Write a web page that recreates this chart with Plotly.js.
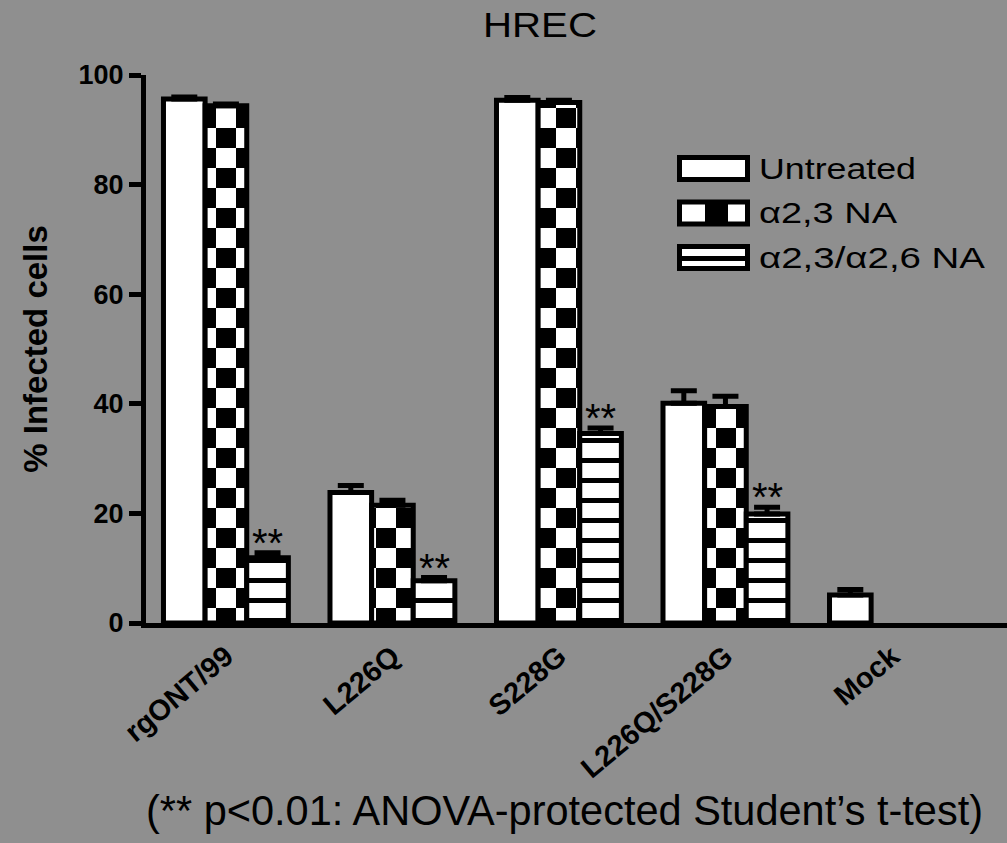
<!DOCTYPE html>
<html>
<head>
<meta charset="utf-8">
<script src="https://cdn.plot.ly/plotly-3.0.1.min.js"></script>
<style>
  html, body { margin: 0; padding: 0; background: #8f8f8f; }
  #chart { width: 1007px; height: 843px; }
</style>
</head>
<body>
<div id="chart"></div>
<script>
// ---- data -------------------------------------------------------------
var categories = ['rgONT/99', 'L226Q', 'S228G', 'L226Q/S228G', 'Mock'];
var seriesNames = ['Untreated', 'α2,3 NA', 'α2,3/α2,6 NA'];

var untreated    = [95.6, 23.8, 95.4, 40.1, 5.1];
var untreatedErr = [0.4, 1.3, 0.5, 2.3, 1.0];

var na23    = [94.4, 21.5, 95.0, 39.5, null];
var na23Err = [0.3, 0.9, 0.4, 1.9, null];

var na2326    = [11.9, 7.7, 34.6, 19.9, null];
var na2326Err = [0.9, 0.6, 1.0, 1.2, null];

// significance marks drawn above the α2,3/α2,6 NA bars
var significance = ['**', '**', '**', '**', ''];

var yTicks = [0, 20, 40, 60, 80, 100];

var titleText = 'HREC';
var yTitleText = '% Infected cells';
var footnoteText = '(** p<0.01: ANOVA-protected Student’s t-test)';

// ---- page geometry ----------------------------------------------------
var W = 1007, H = 843;
var M = { l: 146, r: 0, t: 75, b: 220 };
var BG = '#8f8f8f';
var FONT = 'Arial, "Liberation Sans", Helvetica, sans-serif';
var BARGAP = 0.25;
var OUTLINE = 5;

// pixel -> paper coordinates for overlay items
function px(x) { return (x - M.l) / (W - M.l - M.r); }
function py(y) { return (H - M.b - y) / (H - M.t - M.b); }

function zeros(arr) { return arr.map(function () { return 0; }); }

function barTrace(name, y, err, pattern) {
  var t = {
    type: 'bar',
    name: name,
    x: categories,
    y: y,
    marker: { color: '#ffffff', line: { color: '#000000', width: OUTLINE } },
    error_y: {
      type: 'data', symmetric: false, visible: true,
      array: err, arrayminus: zeros(err),
      color: '#000000', thickness: 5, width: 13
    },
    showlegend: false,
    hoverinfo: 'skip'
  };
  if (pattern) t.marker.pattern = pattern;
  return t;
}

var data = [
  barTrace(seriesNames[0], untreated, untreatedErr, null),
  barTrace(seriesNames[1], na23, na23Err,
    { shape: '+', size: 40, solidity: 0.5, fgcolor: '#000000', bgcolor: '#ffffff' }),
  barTrace(seriesNames[2], na2326, na2326Err,
    { shape: '-', size: 20, solidity: 0.25, fgcolor: '#000000', bgcolor: '#ffffff' })
];

// ---- annotations -------------------------------------------------------
var annotations = [];
var thirdOffset = (1 - BARGAP) / 3;
significance.forEach(function (s, i) {
  if (!s) return;
  annotations.push({
    x: i + thirdOffset, y: na2326[i] + na2326Err[i],
    xref: 'x', yref: 'y', text: s, showarrow: false,
    xanchor: 'center', yanchor: 'bottom', yshift: -14,
    font: { family: FONT, size: 40, color: '#000000' }
  });
});

// legend built from shapes + labels
var shapes = [];
var legendRows = [168.5, 213, 257.5];
var legendWidths = [157, 138, 226];
var swL = 679.5, swR = 747.5, swH = 22;
var labelLeft = 757;
legendRows.forEach(function (cy, k) {
  shapes.push({
    type: 'rect', xref: 'paper', yref: 'paper',
    x0: px(swL), x1: px(swR), y0: py(cy + swH / 2), y1: py(cy - swH / 2),
    fillcolor: '#ffffff', line: { color: '#000000', width: OUTLINE }, layer: 'above'
  });
  if (k === 1) {
    shapes.push({
      type: 'rect', xref: 'paper', yref: 'paper',
      x0: px(705), x1: px(728), y0: py(cy + swH / 2), y1: py(cy - swH / 2),
      fillcolor: '#000000', line: { width: 0 }, layer: 'above'
    });
  }
  if (k === 2) {
    shapes.push({
      type: 'line', xref: 'paper', yref: 'paper',
      x0: px(swL), x1: px(swR), y0: py(cy + 1), y1: py(cy + 1),
      line: { color: '#000000', width: 5 }, layer: 'above'
    });
  }
  annotations.push({
    x: px(labelLeft), y: py(cy), xref: 'paper', yref: 'paper',
    text: seriesNames[k], showarrow: false,
    xanchor: 'left', yanchor: 'middle',
    font: { family: FONT, size: 29, color: '#000000' }
  });
});

annotations.push({
  x: px(564.5), y: py(810), xref: 'paper', yref: 'paper',
  text: footnoteText, showarrow: false,
  xanchor: 'center', yanchor: 'middle',
  font: { family: FONT, size: 42, color: '#000000' }
});

// ---- layout ------------------------------------------------------------
var layout = {
  width: W, height: H,
  margin: M,
  paper_bgcolor: BG, plot_bgcolor: BG,
  barmode: 'group', bargap: BARGAP, bargroupgap: 0,
  showlegend: false,
  font: { family: FONT, color: '#000000' },
  title: {
    text: titleText,
    font: { family: FONT, size: 35, color: '#000000' },
    xref: 'container', yref: 'container',
    x: 540 / W, xanchor: 'center',
    y: 1 - 25 / H, yanchor: 'middle'
  },
  xaxis: {
    type: 'category',
    range: [-0.48, 4.691],
    showline: true, linecolor: '#000000', linewidth: OUTLINE,
    ticks: '', showgrid: false, zeroline: false,
    tickangle: -40,
    tickfont: { family: FONT, size: 29, weight: 'bold', color: '#000000' },
    fixedrange: true
  },
  yaxis: {
    range: [0, 100],
    tickvals: yTicks, ticktext: yTicks.map(String),
    showline: true, linecolor: '#000000', linewidth: OUTLINE,
    ticks: 'outside', ticklen: 12, tickwidth: 5, tickcolor: '#000000',
    showgrid: false, zeroline: false,
    tickfont: { family: FONT, size: 27, weight: 'bold', color: '#000000' },
    title: {
      text: yTitleText,
      font: { family: FONT, size: 33, weight: 'bold', color: '#000000' },
      standoff: 22
    },
    fixedrange: true
  },
  shapes: shapes,
  annotations: annotations
};

// ---- fill tiles ----------------------------------------------------------
var SVGNS = 'http://www.w3.org/2000/svg';
function rect(parent, x, y, w, h, fill) {
  var r = document.createElementNS(SVGNS, 'rect');
  r.setAttribute('x', x); r.setAttribute('y', y);
  r.setAttribute('width', w); r.setAttribute('height', h);
  r.setAttribute('fill', fill);
  parent.appendChild(r);
}
function retile(gd, traceIndex, tile) {
  var groups = gd.querySelectorAll('.barlayer .trace.bars');
  if (!groups[traceIndex]) return;
  var done = {};
  groups[traceIndex].querySelectorAll('.point path').forEach(function (p) {
    var m = (p.style.fill || '').match(/#([^"')]+)/);
    if (!m || done[m[1]]) return;
    done[m[1]] = true;
    var pat = document.getElementById(m[1]);
    if (!pat) return;
    while (pat.firstChild) pat.removeChild(pat.firstChild);
    pat.setAttribute('patternUnits', 'userSpaceOnUse');
    pat.removeAttribute('patternTransform');
    pat.setAttribute('width', tile.size);
    pat.setAttribute('height', tile.size);
    pat.setAttribute('x', tile.x);
    pat.setAttribute('y', tile.y);
    tile.draw(pat);
  });
}

// set the drawn length of a text line (glyphs scaled along the line);
// with keepLeft the line keeps its left edge instead of its centre
function fitText(el, len, keepLeft) {
  if (!el) return;
  if (keepLeft) {
    var bb = el.getBBox();
    el.setAttribute('text-anchor', 'start');
    el.style.textAnchor = 'start';
    el.setAttribute('x', bb.x);
  }
  el.setAttribute('textLength', len);
  el.setAttribute('lengthAdjust', 'spacingAndGlyphs');
}
function findText(gd, selector, content) {
  var found = null;
  gd.querySelectorAll(selector).forEach(function (t) {
    if (t.textContent === content) found = t;
  });
  return found;
}

var gd = document.getElementById('chart');
Plotly.newPlot(gd, data, layout, { staticPlot: true, displayModeBar: false }).then(function () {
  // α2,3 NA: checkerboard of 20px cells
  retile(gd, 1, {
    size: 40, x: 30, y: 13,
    draw: function (pat) {
      rect(pat, 0, 0, 40, 40, '#ffffff');
      rect(pat, 0, 0, 20, 20, '#000000');
      rect(pat, 20, 20, 20, 20, '#000000');
    }
  });
  // α2,3/α2,6 NA: horizontal stripes
  retile(gd, 2, {
    size: 20, x: 0, y: 0,
    draw: function (pat) {
      rect(pat, 0, 0, 20, 20, '#ffffff');
      rect(pat, 0, 3, 20, 5, '#000000');
    }
  });
  // text widths
  fitText(findText(gd, '.gtitle', titleText), 114);
  fitText(findText(gd, '.annotation-text', footnoteText), 837);
  seriesNames.forEach(function (n, k) {
    fitText(findText(gd, '.annotation-text', n), legendWidths[k], true);
  });
});
</script>
</body>
</html>
